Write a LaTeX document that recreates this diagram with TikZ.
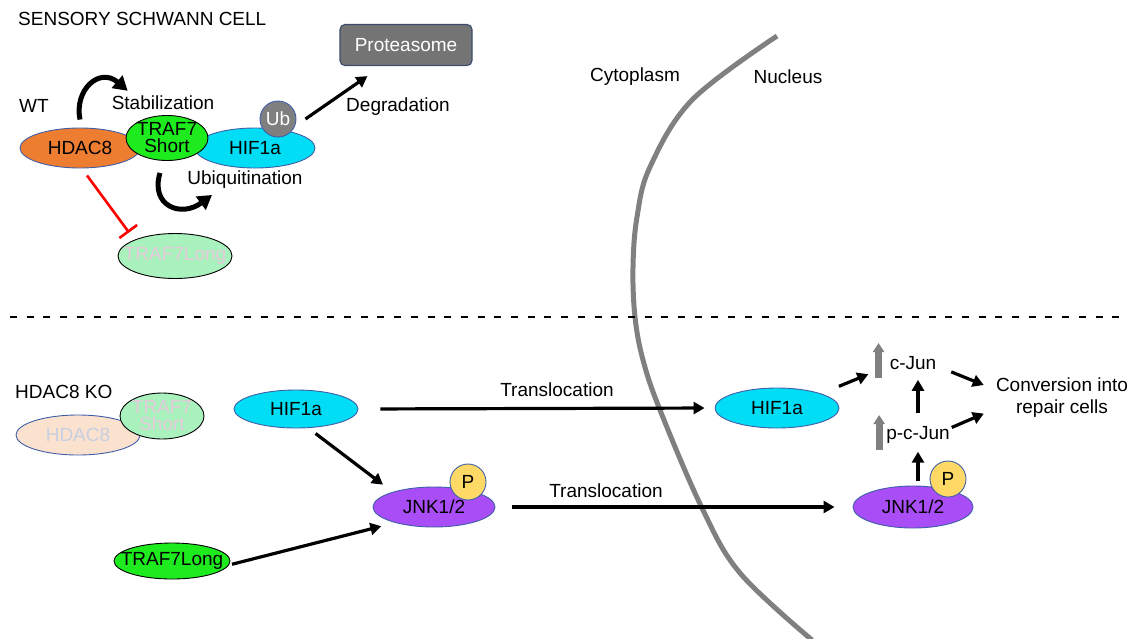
\documentclass[tikz,border=0pt]{standalone}
\usepackage{fontspec}
\setmainfont{Liberation Sans}
\usetikzlibrary{arrows.meta, shapes.geometric, calc}
\definecolor{hdacorange}{HTML}{ED7D31}
\definecolor{trafgreen}{HTML}{1EEB1E}
\definecolor{hifcyan}{HTML}{00DDF4}
\definecolor{jnkpurple}{HTML}{A94DF6}
\definecolor{edgeblue}{HTML}{3F5FA8}
\definecolor{ubgray}{HTML}{7F7F7F}
\definecolor{protgray}{HTML}{747474}
\definecolor{protedge}{HTML}{3E4D6E}
\definecolor{pyellow}{HTML}{FFD966}
\definecolor{fadeorange}{HTML}{FBE2CF}
\definecolor{fadegreen}{HTML}{A9F2BE}
\definecolor{fadetext}{HTML}{E5C9DA}
\definecolor{fadeblue}{HTML}{C7CFE0}
\definecolor{membgray}{HTML}{808080}

\begin{document}
\begin{tikzpicture}[x=1pt, y=-1pt,
  txt/.style={font=\fontsize{19}{21}\selectfont, inner sep=0pt},
  mol/.style={ellipse, draw=edgeblue, line width=0.9pt, inner sep=-20pt, font=\fontsize{19}{21}\selectfont},
  dot/.style={circle, draw=edgeblue, line width=0.9pt, inner sep=0pt, minimum size=36pt, font=\fontsize{19}{21}\selectfont},
  arr/.style={-{Triangle[length=11pt,width=12pt]}, line width=3.2pt},
  bendarr/.style={-{Triangle[length=14pt,width=16pt]}, line width=5pt},
  inhib/.style={-{Bar[width=22pt]}, line width=2.6pt, red},
  upbar/.style={-{Triangle[length=9pt,width=11pt]}, line width=7pt, membgray}
]
  \useasboundingbox (0,0) rectangle (1132,638);

  % Nuclear membrane and divider
  \draw[membgray, line width=5pt] plot[smooth, tension=0.6] coordinates {(777,36) (692,100) (650,167) (637,217) (633,267) (635,317) (643,360) (660,410) (702,508) (740,573) (812,640)};
  \draw[line width=2.3pt, dash pattern=on 7pt off 9.7pt] (10,317) -- (1125,317);
  \node[txt] (cyto) at (635,77) {Cytoplasm};
  \node[txt] (nucl) at (788,77) {Nucleus};

  % WT
  \node[txt, anchor=west] (title) at (18,19) {SENSORY SCHWANN CELL};
  \node[txt, anchor=west] (wt) at (19,106) {WT};
  \node[rectangle, rounded corners=5pt, fill=protgray, draw=protedge, line width=1.2pt, minimum width=132pt, minimum height=41pt, text=white, font=\fontsize{19}{21}\selectfont] (prot) at (406,45) {Proteasome};
  \node[mol, fill=hdacorange, minimum width=120pt, minimum height=40pt] (hdac) at (80,148) {HDAC8};
  \node[mol, fill=hifcyan, minimum width=120pt, minimum height=40pt] (hif) at (255,148) {HIF1a};
  \node[mol, fill=trafgreen, draw=black, minimum width=82pt, minimum height=45pt, align=center, font=\fontsize{19}{17}\selectfont] (trafs) at (167,138) {TRAF7\\Short};
  \node[dot, fill=ubgray, text=white] (ub) at (278,119) {Ub};
  \node[mol, fill=fadegreen, draw=black, text=fadetext, minimum width=114pt, minimum height=45pt] (trafl) at (175,256) {TRAF7Long};

  \node[txt] (stab) at (163,103) {Stabilization};
  \node[txt] (ubiq) at (245,180) {Ubiquitination};
  \node[txt] (degr) at (398,107) {Degradation};

  \draw[bendarr] ([yshift=8pt]hdac.north) .. controls +(-6,-30) and +(-28,-24) .. ([xshift=-10pt,yshift=31pt]trafs.north west);
  \draw[bendarr] ([xshift=-7pt,yshift=-12pt]trafs.south) .. controls +(-10,33) and +(-31,23) .. ([xshift=45pt,yshift=-34pt]trafs.south);
  \draw[arr] ([xshift=9pt]ub.east) -- ($(prot.south west)+(28,10)$);
  \draw[inhib, shorten >=9pt] ([xshift=7pt,yshift=-7pt]hdac.south) -- (trafl.north west);

  % HDAC8 KO
  \node[txt, anchor=west] (ko) at (15,392) {HDAC8 KO};
  \node[mol, fill=fadeorange, text=fadeblue, minimum width=124pt, minimum height=40pt] (hdacko) at (78,435) {HDAC8};
  \node[mol, fill=fadegreen, draw=black, text=fadetext, minimum width=84pt, minimum height=46pt, align=center, font=\fontsize{19}{17}\selectfont] (trafsko) at (162,416) {TRAF7\\Short};
  \node[mol, fill=hifcyan, minimum width=124pt, minimum height=38pt] (hifL) at (296,409) {HIF1a};
  \node[mol, fill=jnkpurple, minimum width=122pt, minimum height=40pt] (jnkL) at (434,507) {JNK1/2};
  \node[dot, fill=pyellow] (pL) at (468,482) {P};
  \node[mol, fill=trafgreen, draw=black, minimum width=116pt, minimum height=36pt] (traf7L) at (172,561) {TRAF7Long};

  \node[mol, fill=hifcyan, minimum width=124pt, minimum height=40pt] (hifR) at (777,408) {HIF1a};
  \node[mol, fill=jnkpurple, minimum width=120pt, minimum height=42pt] (jnkR) at (913,507) {JNK1/2};
  \node[dot, fill=pyellow] (pR) at (948,479) {P};
  \node[txt] (cjun) at (913,363) {c-Jun};
  \node[txt] (pcjun) at (918,435) {p-c-Jun};
  \node[txt, align=center, font=\fontsize{19}{22}\selectfont] (conv) at (1062,398) {Conversion into\\repair cells};

  \node[txt] (trans1) at (557,390) {Translocation};
  \node[txt] (trans2) at (606,491) {Translocation};

  \draw[upbar] ([xshift=-11pt,yshift=-15pt]cjun.west) -- ([xshift=-11pt,yshift=20pt]cjun.west);
  \draw[upbar] ([xshift=-7pt,yshift=-15pt]pcjun.west) -- ([xshift=-7pt,yshift=20pt]pcjun.west);

  \draw[arr, shorten <=9pt, shorten >=12pt] (hifL.-57) -- (jnkL.160);
  \draw[arr, shorten <=3pt, shorten >=14pt] (traf7L.-4) -- (jnkL.202);
  \draw[arr, shorten <=22pt, shorten >=10pt] (hifL.east) -- (hifR.west);
  \draw[arr, shorten <=17pt, shorten >=18pt] (jnkL.east) -- (jnkR.west);
  \draw[arr, shorten <=19pt, shorten >=23pt] (hifR.18) -- (cjun.186);
  \draw[arr, shorten <=16pt, shorten >=13pt] (cjun.-7) -- (conv.173);
  \draw[arr, shorten <=2pt, shorten >=13pt] (pcjun.12) -- (conv.-171);
  \draw[arr, shorten <=5pt, shorten >=8pt] (jnkR.north -| pcjun.south) -- (pcjun.south);
  \draw[arr, shorten <=13pt, shorten >=10pt] (pcjun.north) -- (pcjun.north |- cjun.south);
\end{tikzpicture}
\end{document}
